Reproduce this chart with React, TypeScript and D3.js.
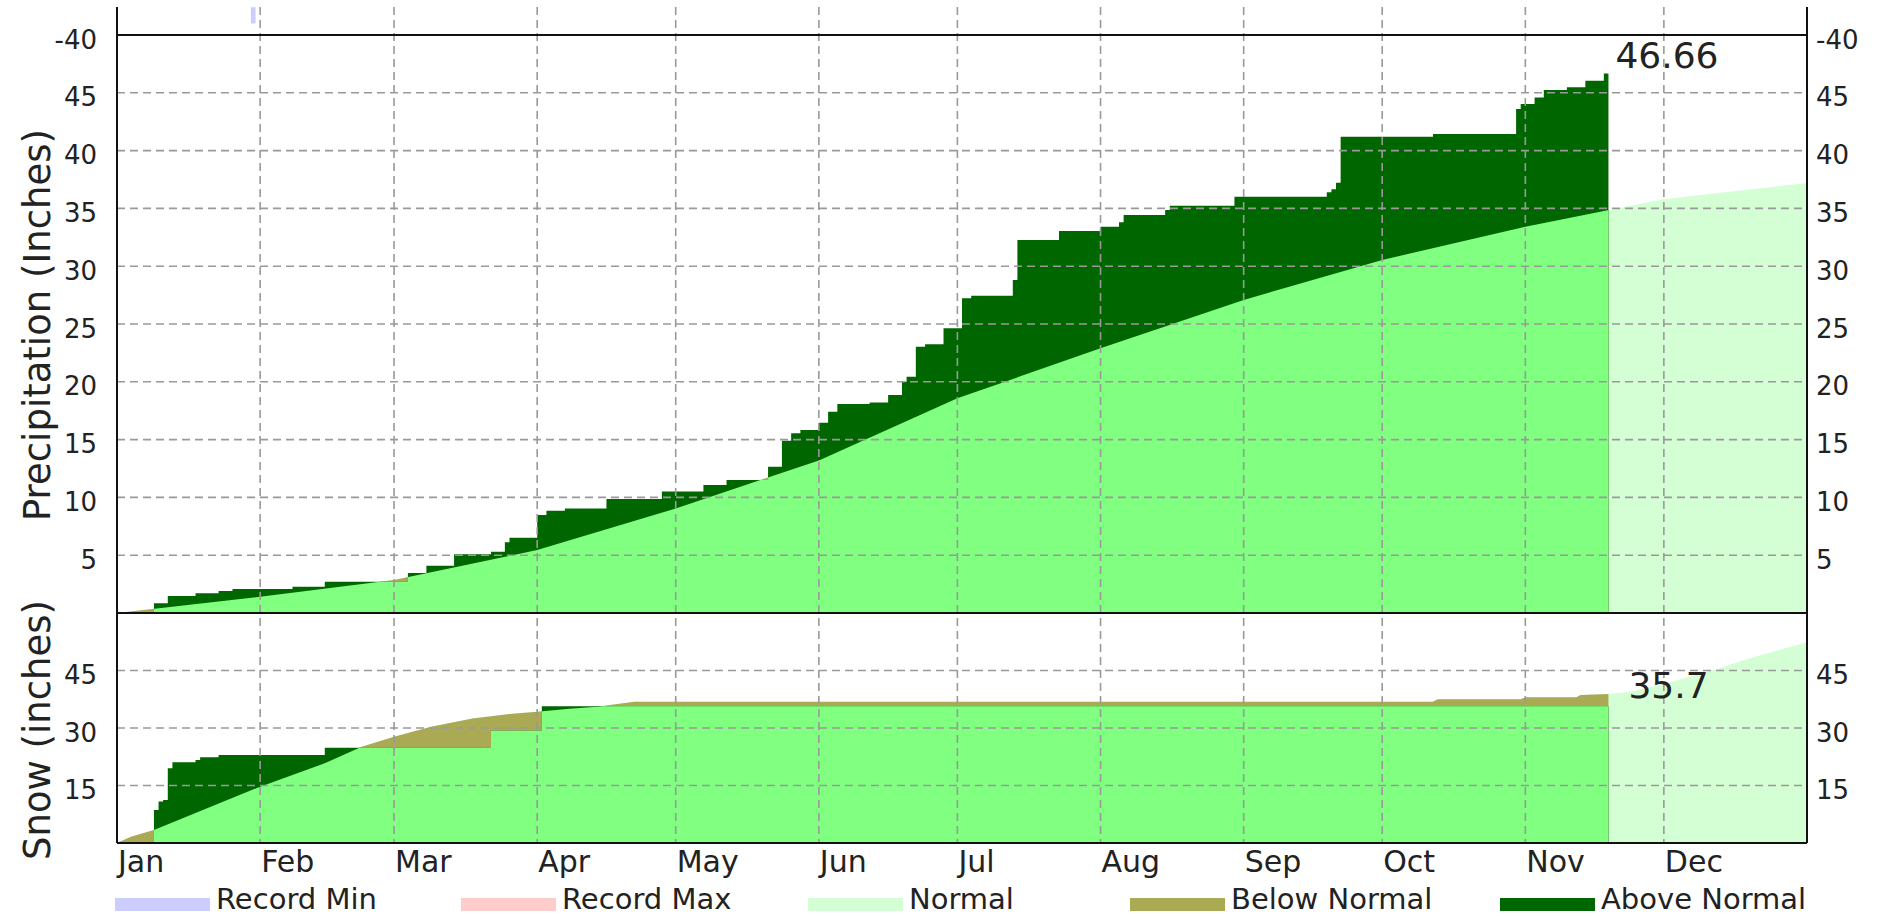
import React from "react";
import * as d3 from "d3";

// ---- data ----
const monthNames = ["Jan", "Feb", "Mar", "Apr", "May", "Jun", "Jul", "Aug", "Sep", "Oct", "Nov", "Dec"];

// cumulative precipitation [day of year, inches]
const precipObserved: [number, number][] = [
  [0, 0.03], [8, 0.84], [11, 1.47], [17, 1.7], [22, 1.9], [25, 2.08], [38, 2.28], [45, 2.71],
  [63, 3.46], [67, 4.09], [73, 5.08], [81, 5.3], [84, 6.11], [85, 6.51], [91, 8.48], [93, 8.85],
  [97, 9.05], [106, 9.86], [118, 10.5], [127, 11.07], [132, 11.5], [141, 12.66], [144, 14.9],
  [146, 15.54], [148, 15.83], [152, 16.46], [154, 17.41], [156, 18.08], [163, 18.2], [167, 18.86],
  [170, 20.0], [171, 20.44], [173, 23.04], [175, 23.24], [179, 24.63], [183, 27.22], [185, 27.45],
  [194, 28.8], [195, 32.27], [204, 33.04], [213, 33.42], [217, 33.8], [218, 34.43], [227, 34.86],
  [228, 35.23], [242, 36.01], [262, 36.39], [263, 36.65], [264, 37.22], [265, 41.2], [285, 41.43],
  [303, 43.6], [304, 44.03], [307, 44.6], [309, 45.24], [314, 45.48], [318, 46.05], [322, 46.66],
];
const precipNormal: [number, number][] = [
  [0, 0], [31, 1.41], [60, 2.85], [91, 5.45], [121, 9.05], [152, 13.2], [182, 18.57],
  [213, 22.9], [244, 27.08], [274, 30.54], [305, 33.42], [335, 35.8], [366, 37.2],
];

// cumulative snowfall [day of year, inches]
const snowObserved: [number, number][] = [
  [0, 0], [8, 8.6], [9, 10.8], [10, 11.2], [11, 19.5], [12, 21.05], [17, 21.65], [18, 22.35],
  [22, 22.96], [45, 24.87], [81, 29.3], [92, 35.7],
];
const snowNormal: [number, number][] = [
  [0, 0], [3, 1.6], [8, 3.4], [31, 14.7], [45, 20.8], [53, 25.1], [60, 27.7], [68, 30.3],
  [77, 32.5], [85, 33.65], [91, 34.26], [98, 35.0], [104, 35.56], [112, 36.86], [285, 36.86],
  [286, 37.5], [304, 37.5], [305, 38.0], [316, 38.0], [317, 38.6], [323, 38.9], [328, 39.5],
  [335, 41.5], [345, 44.9], [354, 48.3], [366, 52.4],
];

const lastObsDay = 323;
const precipLabel = "46.66";
const snowLabel = "35.7";

const precipTicks = [5, 10, 15, 20, 25, 30, 35, 40, 45, 50];
const precipTickLabels = ["5", "10", "15", "20", "25", "30", "35", "40", "45", "-40"];
const snowTicks = [15, 30, 45];
const snowTickLabels = ["15", "30", "45"];

const legendNames = ["Record Min", "Record Max", "Normal", "Below Normal", "Above Normal"];
const legendColors = ["#ccccff", "#ffcccc", "#d4ffd4", "#aaaa55", "#006600"];

// off-scale record min mark (precip units)
const recordMinMarks = [{ day: 29, lo: 51.0, hi: 52.4 }];

// ---- layout ----
const W = 1880;
const H = 916;
const X0 = 117;
const X1 = 1807;
const TOP = 7;
const P_TOP = 35;
const MID = 613;
const BOT = 843;
const legendX = [115, 461, 808, 1130, 1500];
const font = "DejaVu Sans";

const BRIGHT = "#80ff80";
const ABOVE = "#006600";
const BELOW = "#aaaa55";
const NORMAL = "#d4ffd4";

const t0 = new Date(Date.UTC(2024, 0, 1));
const t1 = new Date(Date.UTC(2025, 0, 1));
const x = d3.scaleUtc().domain([t0, t1]).range([X0, X1]);
const dayX = (d: number) => x(d3.utcDay.offset(t0, d));

const yP = d3.scaleLinear().domain([0, 50]).range([MID, P_TOP]);
const yS = d3.scaleLinear().domain([0, 60]).range([BOT, MID]);

function Panel({ id, obs, normal, y }: { id: string; obs: [number, number][]; normal: [number, number][]; y: d3.ScaleLinear<number, number> }) {
  const obsPts: [number, number][] = [...obs, [lastObsDay, obs[obs.length - 1][1]]];
  const obsArea = d3
    .area<[number, number]>()
    .x((d) => dayX(d[0]))
    .y0(y(0))
    .y1((d) => y(d[1]))
    .curve(d3.curveStepAfter);
  const normArea = d3
    .area<[number, number]>()
    .x((d) => dayX(d[0]))
    .y0(y(0))
    .y1((d) => y(d[1]));
  const obsPath = obsArea(obsPts) || "";
  const normPath = normArea(normal) || "";
  return (
    <g>
      <defs>
        <clipPath id={`${id}-obs`}>
          <path d={obsPath} />
        </clipPath>
        <clipPath id={`${id}-past`}>
          <rect x={X0} y={TOP} width={dayX(lastObsDay) - X0} height={BOT - TOP} />
        </clipPath>
      </defs>
      <path d={normPath} fill={NORMAL} />
      <path d={normPath} fill={BELOW} clipPath={`url(#${id}-past)`} />
      <path d={obsPath} fill={ABOVE} />
      <path d={normPath} fill={BRIGHT} clipPath={`url(#${id}-obs)`} />
    </g>
  );
}

export default function App() {
  const months = d3.utcMonth.range(t0, t1);
  const endX = dayX(lastObsDay);
  const lastP = precipObserved[precipObserved.length - 1][1];
  const lastS = snowObserved[snowObserved.length - 1][1];

  return (
    <svg
      width={W}
      height={H}
      style={{ position: "absolute", left: 0, top: 0, background: "#fff" }}
      fontFamily={font}
    >
      <Panel id="p" obs={precipObserved} normal={precipNormal} y={yP} />
      <Panel id="s" obs={snowObserved} normal={snowNormal} y={yS} />

      {recordMinMarks.map((m, i) => (
        <rect key={i} x={dayX(m.day)} y={yP(m.hi)} width={dayX(m.day + 1) - dayX(m.day)} height={yP(m.lo) - yP(m.hi)} fill={legendColors[0]} />
      ))}

      {/* grid */}
      <g stroke="#999" strokeWidth={1.6} strokeDasharray="8 5" fill="none">
        {months.slice(1).map((m, i) => (
          <line key={i} x1={x(m)} x2={x(m)} y1={TOP} y2={BOT} />
        ))}
        {precipTicks.slice(0, -1).map((v) => (
          <line key={"p" + v} x1={X0} x2={X1} y1={yP(v)} y2={yP(v)} />
        ))}
        {snowTicks.map((v) => (
          <line key={"s" + v} x1={X0} x2={X1} y1={yS(v)} y2={yS(v)} />
        ))}
      </g>

      {/* frame */}
      <g stroke="#111" strokeWidth={2}>
        <line x1={X0} x2={X0} y1={TOP} y2={BOT} />
        <line x1={X1} x2={X1} y1={TOP} y2={BOT} />
        <line x1={X0} x2={X1} y1={yP(50)} y2={yP(50)} />
        <line x1={X0} x2={X1} y1={MID} y2={MID} />
        <line x1={X0} x2={X1} y1={BOT} y2={BOT} />
      </g>

      {/* tick labels */}
      <g fontSize={26} fill="#222">
        {precipTicks.map((v, i) => (
          <g key={"pt" + v}>
            <text x={97} y={yP(v) + 13.5} textAnchor="end">{precipTickLabels[i]}</text>
            <text x={X1 + 9} y={yP(v) + 13.5}>{precipTickLabels[i]}</text>
          </g>
        ))}
        {snowTicks.map((v, i) => (
          <g key={"st" + v}>
            <text x={97} y={yS(v) + 13.5} textAnchor="end">{snowTickLabels[i]}</text>
            <text x={X1 + 9} y={yS(v) + 13.5}>{snowTickLabels[i]}</text>
          </g>
        ))}
      </g>

      {/* month labels */}
      <g fontSize={30} fill="#222">
        {months.map((m, i) => (
          <text key={i} x={x(m) + 1} y={872}>{monthNames[i]}</text>
        ))}
      </g>

      {/* axis titles */}
      <g fontSize={37} fill="#222" textAnchor="middle">
        <text transform="translate(50,325) rotate(-90)">Precipitation (Inches)</text>
        <text transform="translate(50,730) rotate(-90)">Snow (inches)</text>
      </g>

      {/* end-of-data labels */}
      <g fontSize={36} fill="#222">
        <text x={endX + 7} y={yP(lastP) - 6}>{precipLabel}</text>
        <text x={endX + 20} y={yS(lastS) - 8}>{snowLabel}</text>
      </g>

      {/* legend */}
      <g fontSize={29} fill="#222">
        {legendNames.map((name, i) => (
          <g key={name}>
            <rect x={legendX[i]} y={898} width={95} height={13} fill={legendColors[i]} />
            <text x={legendX[i] + 101} y={909}>{name}</text>
          </g>
        ))}
      </g>
    </svg>
  );
}
